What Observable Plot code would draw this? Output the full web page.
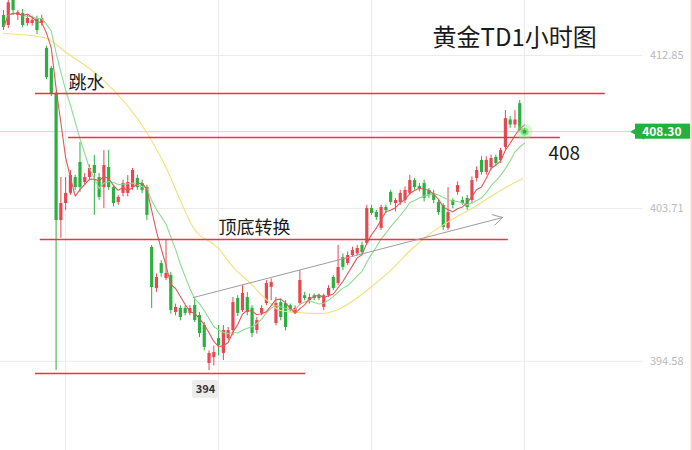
<!DOCTYPE html>
<html><head><meta charset="utf-8">
<script src="https://cdn.jsdelivr.net/npm/d3@7"></script>
<script src="https://cdn.jsdelivr.net/npm/@observablehq/plot@0.6"></script>
<style>body{margin:0;background:#fff} #chart svg{display:block}</style>
</head><body><div id="chart"></div>
<script>
// Hourly OHLC
const open  = [415.24,414.64,416.14,415.24,415.36,414.76,414.76,415.06,414.76,413.27,
  412.07,410.58,402.99,404.01,404.61,405.56,406.46,405.26,405.56,406.28,
  405.56,404.96,406.16,404.96,404.07,404.61,404.61,404.96,405.50,405.20,
  404.96,401.38,398.93,400.42,399.53,399.71,397.50,397.74,397.74,397.44,
  397.92,397.32,396.72,394.45,394.80,395.94,395.05,395.94,396.42,398.33,
  397.62,398.39,397.74,396.42,397.44,398.03,399.00,396.84,398.09,398.03,
  397.90,397.50,398.03,398.50,398.21,398.50,398.50,397.80,398.50,399.59,
  399.23,400.78,400.42,400.90,401.00,401.50,401.62,403.71,403.47,402.52,
  403.77,404.67,404.01,404.07,404.19,404.61,405.38,405.02,405.20,404.79,
  404.61,404.07,403.89,402.52,404.19,404.67,404.19,404.31,404.19,405.50,
  406.58,405.86,406.16,406.76,406.58,407.35,409.00,408.70,409.97,408.37];
const high  = [415.54,416.30,416.40,415.54,415.60,415.30,415.20,415.20,415.25,413.40,
  412.20,410.70,405.56,405.56,405.98,405.70,407.65,405.80,406.30,406.87,
  405.80,407.17,407.17,405.10,404.50,405.40,405.68,406.10,405.70,405.40,
  405.10,401.50,399.80,400.60,401.80,399.90,398.00,397.90,397.90,397.90,
  398.40,397.50,396.90,395.20,395.50,396.72,396.72,396.60,398.40,398.50,
  399.10,398.70,397.90,397.20,397.90,399.40,399.50,398.40,398.30,398.20,
  398.00,397.90,400.00,398.70,398.60,398.60,398.60,398.60,399.10,399.70,
  401.50,401.00,401.10,401.40,401.50,401.70,403.90,403.90,403.60,403.90,
  403.90,404.80,404.30,404.80,405.00,405.70,405.50,405.20,405.40,404.90,
  404.80,404.20,404.00,404.96,404.30,405.30,404.40,404.50,405.60,406.20,
  406.80,406.80,406.90,406.90,407.30,409.56,409.20,409.56,410.16,408.50];
const low   = [414.34,414.46,415.24,414.94,414.50,414.60,414.60,414.10,414.60,411.40,
  410.40,394.03,401.92,403.59,404.49,404.80,404.67,405.10,405.40,403.30,
  404.20,403.71,404.80,403.80,403.90,404.40,404.40,404.80,404.80,404.60,
  403.00,397.74,398.70,399.60,399.40,397.40,397.30,397.00,397.30,397.30,
  396.90,396.00,395.20,394.03,394.30,394.90,394.63,395.80,396.10,397.26,
  397.50,397.30,396.00,396.20,397.30,397.90,398.20,396.70,397.00,396.40,
  397.50,397.40,397.90,398.20,398.00,398.20,398.20,397.60,398.40,398.80,
  399.10,400.00,400.30,400.80,400.90,400.90,401.50,403.30,403.00,402.40,
  403.40,403.90,403.50,403.90,404.00,404.50,404.80,404.70,404.10,404.30,
  404.00,403.30,402.40,402.40,403.70,404.50,403.90,403.60,404.00,405.30,
  405.70,405.70,406.00,406.20,406.40,407.20,408.50,408.50,408.30,408.20];
const close = [414.52,416.00,415.54,415.42,414.64,415.06,414.94,414.34,415.06,411.53,
  410.58,402.99,404.01,404.61,405.68,404.96,404.96,405.56,406.10,405.80,
  404.37,406.28,404.96,404.01,404.37,405.20,405.26,405.98,404.96,404.79,
  403.30,398.99,399.59,399.83,399.83,397.62,397.80,397.20,397.44,397.74,
  397.02,396.24,395.41,395.05,395.11,395.52,396.42,396.42,398.10,397.44,
  398.63,397.50,396.24,397.02,397.74,399.23,399.29,398.03,397.20,396.60,
  397.68,397.74,399.41,398.33,398.39,398.33,398.33,398.50,398.93,398.93,
  400.19,400.19,400.90,401.20,401.32,401.08,403.71,403.41,403.17,403.77,
  403.59,404.07,404.19,404.61,404.79,405.38,404.96,404.85,404.31,404.49,
  404.19,403.47,402.58,403.47,403.89,405.08,404.01,403.77,405.38,405.98,
  405.86,406.58,406.70,406.40,407.17,409.08,408.70,409.00,408.37,408.30];

// long moving average (yellow) at these bars
const maLongBar = [0, 8.4, 13.4, 20.3, 30.1, 34.3, 37.0, 39.7, 44.8, 48.1, 51.7, 55.2, 57.9,
  61.5, 66.3, 70.5, 73.2, 76.8, 81.0, 85.1, 89.3, 93.5, 98.3, 104.0, 108.6];
const maLong = [414.16, 413.93, 412.97, 411.54, 408.19, 405.98, 404.19, 402.57, 401.38, 400.19,
  399.23, 398.21, 397.62, 397.50, 397.44, 397.74, 398.21, 398.99, 400.01, 401.20, 402.22,
  402.99, 403.77, 404.79, 405.50];

const yTicks = [412.85, 403.71, 394.58];
const yTickLabels = ["412.85", "403.71", "394.58"];
const gridX = [13, 45, 77, 109];
const lastPrice = 408.30;
const lastLabel = "408.30";
// annotation horizontal levels (price, from bar, to bar)
const levelPrice = [410.58, 407.95, 401.86, 393.85];
const levelFrom  = [6.7, 13.6, 7.7, 6.7];
const levelTo    = [125.9, 116.5, 105.6, 63.2];
// trend arrow (bar, price)
const trendBar   = [39.7, 104.4];
const trendPrice = [398.39, 403.17];
const title = "黄金TD1小时图";

const UP = "#e8474f", DOWN = "#2bb040", LEVEL = "#ee3344";
const candles = close.map((c, i) => ({i, open: open[i], high: high[i], low: low[i], close: c,
  color: c >= open[i] ? UP : DOWN}));
const levels = levelPrice.map((p, k) => ({p, a: levelFrom[k], b: levelTo[k], color: LEVEL}));
const trend = [{x1: trendBar[0], y1: trendPrice[0], x2: trendBar[1], y2: trendPrice[1]}];
const maLongPts = maLongBar.map((b, k) => ({b, v: maLong[k]}));
const lastIdx = candles.length - 1;

// pixel helpers for the 692x450 frame
const X0 = 3, DX = 4.78;
const xDomain = [(0 - X0) / DX, (692 - X0) / DX];
const PY = 16.74, PTOP = 412.85 + 55 / PY;
const yDomain = [PTOP - 450 / PY, PTOP];
const px = v => (v - X0) / DX;        // pixel x -> bar
const py = v => PTOP - v / PY;        // pixel y -> price

const chart = Plot.plot({
  width: 692, height: 450, margin: 0,
  x: {domain: xDomain, axis: null},
  y: {domain: yDomain, axis: null},
  color: {type: "identity"},
  style: {fontFamily: "'Noto Sans CJK SC','Noto Sans',sans-serif", background: "#fff"},
  marks: [
    Plot.ruleY(yTicks, {stroke: "#ebebeb", insetRight: 50}),
    Plot.ruleX(gridX, {stroke: "#ebebeb"}),
    Plot.ruleY([lastPrice], {stroke: "#b6e6b6", insetRight: 60}),
    // candles
    Plot.ruleX(candles, {x: "i", y1: "low", y2: "high", stroke: "color", strokeWidth: 1}),
    Plot.ruleX(candles, {x: "i", y1: "open", y2: "close", stroke: "color", strokeWidth: 3.2}),
    // moving averages
    Plot.line(maLongPts, {x: "b", y: "v", curve: "monotone-x", stroke: "#f3e07a", strokeWidth: 1.1}),
    Plot.lineY(candles, Plot.windowY({k: 10, anchor: "end"}, {x: "i", y: "close", stroke: "#8edb8e", strokeWidth: 1.1})),
    Plot.lineY(candles, Plot.windowY({k: 5, anchor: "end"}, {x: "i", y: "close", stroke: "#dc5a5a", strokeWidth: 1.1})),
    // annotation levels
    Plot.ruleY(levels, {y: "p", x1: "a", x2: "b", stroke: "color", strokeWidth: 1.6}),
    Plot.arrow(trend, {x1: "x1", y1: "y1", x2: "x2", y2: "y2", stroke: "#9c9c9c", strokeWidth: 1, headLength: 16, headAngle: 60}),
    // current price glow
    Plot.dot([candles[lastIdx]], {x: "i", y: "close", r: 8, fill: "#8ee88e", fillOpacity: 0.35}),
    Plot.dot([candles[lastIdx]], {x: "i", y: "close", r: 4, fill: "#5fd65f", fillOpacity: 0.6}),
    Plot.dot([candles[lastIdx]], {x: "i", y: "close", r: 2, fill: "#2bb040"}),
    // texts
    Plot.text([title], {frameAnchor: "top-left", dx: 432, dy: 38, textAnchor: "start", lineAnchor: "middle", fontSize: 24, fill: "#1a1a1a"}),
    Plot.text(["跳水"], {x: px(68), y: py(83), textAnchor: "start", lineAnchor: "middle", fontSize: 18, fill: "#1a1a1a"}),
    Plot.text(["顶底转换"], {x: px(218), y: py(228), textAnchor: "start", lineAnchor: "middle", fontSize: 18, fill: "#1a1a1a"}),
    Plot.text(["408"], {x: px(548), y: py(153), textAnchor: "start", lineAnchor: "middle", fontSize: 19, fill: "#1a1a1a"}),
    Plot.rect([0], {x1: px(192), x2: px(218), y1: py(398), y2: py(380), fill: "#ececec", rx: 2}),
    Plot.text(["394"], {x: px(205), y: py(389), textAnchor: "middle", lineAnchor: "middle", fontSize: 11, fontWeight: "bold", fill: "#333"}),
    // right axis labels
    Plot.text(yTicks, {y: d => d, text: (d, k) => yTickLabels[k], frameAnchor: "right", dx: -9, textAnchor: "end", lineAnchor: "middle", fontSize: 11, fill: "#b9b9b9"}),
    // price badge
    Plot.rect([lastPrice], {y1: d => d - 0.45, y2: d => d + 0.45, insetLeft: 635, insetRight: 2, fill: "#25b03d"}),
    Plot.dot([lastPrice], {y: d => d, frameAnchor: "right", dx: -53, symbol: "triangle", rotate: -90, r: 6, fill: "#25b03d"}),
    Plot.text([lastPrice], {y: d => d, text: () => lastLabel, frameAnchor: "right", dx: -11, textAnchor: "end", lineAnchor: "middle", fontSize: 12, fontWeight: "bold", fill: "#fff"}),
    // right border
    Plot.ruleX([px(691)], {stroke: "#f6d8c8", strokeWidth: 2})
  ]
});
document.getElementById("chart").append(chart);
</script>
</body></html>
